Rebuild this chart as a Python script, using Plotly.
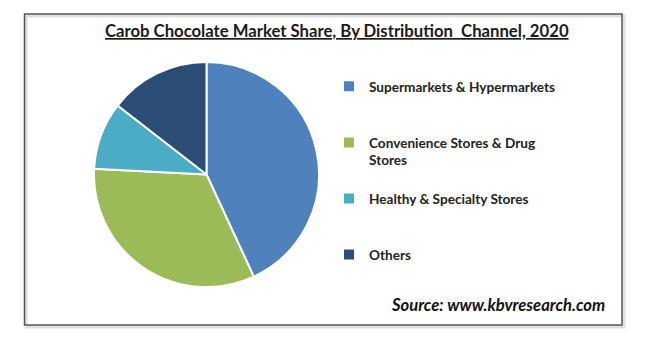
import plotly.graph_objects as go

channels = [
    "Supermarkets & Hypermarkets",
    "Convenience Stores & Drug<br>Stores",
    "Healthy & Specialty Stores",
    "Others",
]
shares = [43.1, 32.7, 9.7, 14.5]
colors = ["#4F81BD", "#9BBB59", "#4BACC6", "#2C4D75"]

title_text = "Carob Chocolate Market Share, By Distribution  Channel, 2020"
source_text = "Source: www.kbvresearch.com"

W, H = 650, 341
FONT = "Lato"

# pad labels so legend rows are evenly spaced as in reference
pads = ["<br> <br> ", "<br> ", "<br> <br> ", ""]
labels = [c + p for c, p in zip(channels, pads)]

fig = go.Figure(
    go.Pie(
        labels=labels,
        values=shares,
        sort=False,
        direction="clockwise",
        rotation=0,
        marker=dict(colors=colors, line=dict(color="white", width=2)),
        textinfo="none",
        hoverinfo="label+percent",
        domain=dict(x=[94 / W, 319 / W], y=[1 - 287 / H, 1 - 62 / H]),
    )
)

fig.update_layout(
    width=W,
    height=H,
    margin=dict(l=0, r=0, t=0, b=0),
    paper_bgcolor="white",
    plot_bgcolor="white",
    showlegend=True,
    legend=dict(
        x=329 / W,
        xanchor="left",
        y=1 - 71 / H,
        yanchor="top",
        valign="top",
        font=dict(family=FONT, size=13.6, color="#222222", weight="bold"),
        itemwidth=30,
        bgcolor="rgba(0,0,0,0)",
    ),
    shapes=[
        dict(
            type="rect", xref="paper", yref="paper",
            x0=26 / W, x1=624 / W, y0=1 - 327 / H, y1=1 - 16 / H,
            line=dict(color="rgba(0,0,0,0.12)", width=3),
        ),
        dict(
            type="rect", xref="paper", yref="paper",
            x0=24.5 / W, x1=622 / W, y0=1 - 325 / H, y1=1 - 14 / H,
            line=dict(color="#555555", width=1.5),
            fillcolor="rgba(0,0,0,0)",
        ),
    ],
    annotations=[
        dict(
            text=title_text, xref="paper", yref="paper",
            x=337 / W, y=1 - 31 / H, xanchor="center", yanchor="middle",
            showarrow=False,
            font=dict(family=FONT, size=16.7, color="#1a1a1a", weight="bold",
                      lineposition="under"),
        ),
        dict(
            text="<i>" + source_text + "</i>", xref="paper", yref="paper",
            x=607 / W, y=1 - 305 / H, xanchor="right", yanchor="middle",
            showarrow=False,
            font=dict(family=FONT, size=16.6, color="#111111", weight="bold"),
        ),
    ],
)

fig.write_html("out.html")
